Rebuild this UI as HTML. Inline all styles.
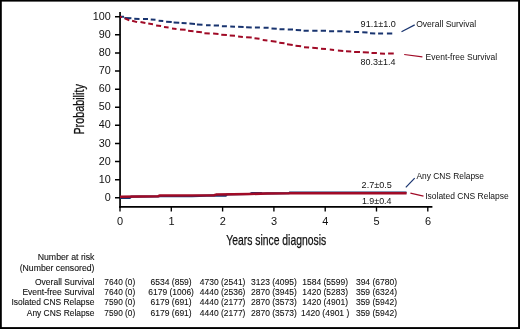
<!DOCTYPE html>
<html>
<head>
<meta charset="utf-8">
<title>Survival probability</title>
<style>
html,body{margin:0;padding:0;background:#fff;}
body{width:520px;height:329px;overflow:hidden;}
svg{display:block;will-change:transform;}
text{font-family:"Liberation Sans",sans-serif;fill:#111;}
.k{font-size:10px;}
.a{font-size:9px;}
.t{font-size:9.1px;stroke:#111;stroke-width:0.1px;}
.c{font-size:14.2px;stroke:#111;stroke-width:0.25px;}
</style>
</head>
<body>
<svg width="520" height="329" viewBox="0 0 520 329">
<rect x="0" y="0" width="520" height="329" fill="#fff"/>
<!-- frame -->
<rect x="0" y="0" width="520" height="1.6" fill="#000"/>
<rect x="0" y="327.1" width="520" height="1.9" fill="#000"/>
<rect x="0" y="0" width="1.8" height="329" fill="#000"/>
<rect x="518.1" y="0" width="1.9" height="329" fill="#000"/>

<!-- axes -->
<g stroke="#000" fill="none">
<path d="M120.05 11.9V207.7" stroke-width="1.7"/>
<path d="M119.2 206.9H432.4" stroke-width="1.7"/>
<path d="M115 16.75H120.05M115 34.85H120.05M115 52.95H120.05M115 71.05H120.05M115 89.15H120.05M115 107.25H120.05M115 125.35H120.05M115 143.45H120.05M115 161.55H120.05M115 179.65H120.05M115 197.75H120.05" stroke-width="1.5"/>
<path d="M120 206.9V211.5M171.3 206.9V211.5M222.6 206.9V211.5M273.9 206.9V211.5M325.2 206.9V211.5M376.5 206.9V211.5M427.8 206.9V211.5" stroke-width="1.35"/>
</g>
<!-- y tick labels -->
<g class="k" text-anchor="end">
<text x="110.7" y="19.85" textLength="18" lengthAdjust="spacingAndGlyphs">100</text>
<text x="110.7" y="37.95" textLength="12" lengthAdjust="spacingAndGlyphs">90</text>
<text x="110.7" y="56.05" textLength="12" lengthAdjust="spacingAndGlyphs">80</text>
<text x="110.7" y="74.15" textLength="12" lengthAdjust="spacingAndGlyphs">70</text>
<text x="110.7" y="92.25" textLength="12" lengthAdjust="spacingAndGlyphs">60</text>
<text x="110.7" y="110.35" textLength="12" lengthAdjust="spacingAndGlyphs">50</text>
<text x="110.7" y="128.45" textLength="12" lengthAdjust="spacingAndGlyphs">40</text>
<text x="110.7" y="146.55" textLength="12" lengthAdjust="spacingAndGlyphs">30</text>
<text x="110.7" y="164.65" textLength="12" lengthAdjust="spacingAndGlyphs">20</text>
<text x="110.7" y="182.75" textLength="12" lengthAdjust="spacingAndGlyphs">10</text>
<text x="110.7" y="200.85" textLength="6" lengthAdjust="spacingAndGlyphs">0</text>
</g>
<!-- x tick labels -->
<g class="k" text-anchor="middle">
<text x="120.15" y="225.4" textLength="6.1" lengthAdjust="spacingAndGlyphs">0</text>
<text x="171.45" y="225.4" textLength="6.1" lengthAdjust="spacingAndGlyphs">1</text>
<text x="222.75" y="225.4" textLength="6.1" lengthAdjust="spacingAndGlyphs">2</text>
<text x="274.05" y="225.4" textLength="6.1" lengthAdjust="spacingAndGlyphs">3</text>
<text x="325.35" y="225.4" textLength="6.1" lengthAdjust="spacingAndGlyphs">4</text>
<text x="376.65" y="225.4" textLength="6.1" lengthAdjust="spacingAndGlyphs">5</text>
<text x="427.95" y="225.4" textLength="6.1" lengthAdjust="spacingAndGlyphs">6</text>
</g>
<!-- axis titles -->
<text class="c" style="font-size:13.8px" text-anchor="middle" textLength="50.4" lengthAdjust="spacingAndGlyphs" transform="translate(83.9 109.4) rotate(-90)">Probability</text>
<text class="c" x="276.2" y="245" text-anchor="middle" textLength="100" lengthAdjust="spacingAndGlyphs">Years since diagnosis</text>

<!-- curves -->
<g fill="none" stroke-width="2.0" stroke-linejoin="round">
<path d="M120 16.80L124.1 16.80M124.4 17.9L131.4 18.35M134.25 18.87L139.5 19.03M143 18.99L148 19.11M150.75 19.43L155.5 19.77M158.6 20.70L163.25 21.10M166.1 21.71L171.75 22.09M173.6 22.45L179.25 22.75M181.6 23.09L186.6 23.31M189.4 23.60L195 23.90M196.9 24.45L202.5 24.75M206 25.13L210.6 25.27M213.75 25.40L219 25.60M221.9 26.15L226.9 26.35M230.25 26.54L235 26.66M238.1 26.82L243.6 26.98M246.1 27.34L251.75 27.46M254.9 27.47L259.9 27.53M263.6 27.65L268.6 27.85M271.5 28.45L276.75 28.75M279.5 29.17L284.5 29.33M287.75 29.42L293 29.58M295.75 29.97L301.1 30.23M303.6 30.69L308.75 30.81M312.25 30.75L317.5 30.75M320.75 30.75L326 30.85M329.1 31.20L334.1 31.30M337.25 31.27L342.5 31.33M345.75 31.54L350.4 31.66M354.1 31.94L359.1 32.06M362.25 32.16L367.5 32.44M370 33.28L375.25 33.52M378.1 33.49L383.1 33.51M386.9 33.50L392.25 33.50" stroke="#19346f"/>
<path d="M120 16.90L121.8 16.90M124.7 18.35L129.3 20.4M132.1 20.7L137.1 22.1M140.5 22.1L145.4 23M148.25 23.56L153 24.14M156.1 25.43L161.1 26.07M164 26.94L168.6 27.46M172 28.50L176.5 28.90M180 29.38L185.6 29.82M188.1 30.65L193.5 31.15M196.25 31.83L201.9 32.37M204.4 33.29L209.75 33.61M213.1 33.62L218.5 33.88M221.25 34.66L226.9 35.04M229.75 35.42L235 35.78M238.1 36.59L242.9 36.91M246.1 37.22L251.75 37.58M254.5 38.24L259.5 38.76M262.75 40.01L267.4 40.49M270.75 41.12L276.5 41.68M279.25 42.69L284.5 43.31M287 44.28L292.75 44.92M295.5 45.72L301.1 46.28M304 47.22L309.1 47.58M312.25 47.85L317.9 48.15M321 48.74L326 49.06M329.75 49.61L334.1 49.89M337.9 50.59L343.25 50.91M346 51.28L351.25 51.52M354.1 51.90L360 52.10M362.8 52.29L368.9 52.51M371.5 52.88L376.9 53.12M380 53.55L385 53.65M388.1 53.60L393.75 53.60" stroke="#a00a26"/>
<path d="M120 197.9L130 197.9L131 196.7L158 196.3L160 196.2L192 196.1L214 195.4L216 195.6L226 195.6L227 194.5L250 194L252 193L261 193L262 193.5L267 193.4L289 193.2L290 192.5L406.5 192.5" stroke="#19346f" stroke-width="2.2"/>
<path d="M120 196.7L158 196.2L160 195.5L214 195.3L216 194.6L250 194L267 193.5L289 193.3L291 193.15L406.6 193.15" stroke="#a00a26" stroke-width="2.55"/>
</g>
<!-- leader lines -->
<g fill="none" stroke-width="1.2">
<path d="M401.5 31.8L414.7 24.9" stroke="#19346f"/>
<path d="M404.2 54.5L422.4 56.9" stroke="#a00a26"/>
<path d="M405.8 187.3L414.7 178.1" stroke="#19346f"/>
<path d="M410.4 193.2L423.5 196.2" stroke="#a00a26"/>
</g>

<!-- annotations -->
<g class="a">
<text x="360.6" y="27.2" textLength="35.2" lengthAdjust="spacingAndGlyphs">91.1±1.0</text>
<text x="360.6" y="64.9" textLength="34.8" lengthAdjust="spacingAndGlyphs">80.3±1.4</text>
<text x="416.2" y="26.5" textLength="59.9" lengthAdjust="spacingAndGlyphs">Overall Survival</text>
<text x="425.6" y="59.7" textLength="71.5" lengthAdjust="spacingAndGlyphs">Event-free Survival</text>
<text x="361.6" y="188.1" textLength="30.2" lengthAdjust="spacingAndGlyphs">2.7±0.5</text>
<text x="361.9" y="204.3" textLength="29.6" lengthAdjust="spacingAndGlyphs">1.9±0.4</text>
<text x="416.4" y="179.3" textLength="67.6" lengthAdjust="spacingAndGlyphs">Any CNS Relapse</text>
<text x="425.2" y="198.5" textLength="83.5" lengthAdjust="spacingAndGlyphs">Isolated CNS Relapse</text>
</g>
<!-- risk table -->
<g class="t" text-anchor="end">
<text x="94.5" y="259.9" textLength="56.8" lengthAdjust="spacingAndGlyphs">Number at risk</text>
<text x="94.5" y="270.6" textLength="74.8" lengthAdjust="spacingAndGlyphs">(Number censored)</text>
<text x="94.5" y="284.6" textLength="59.5" lengthAdjust="spacingAndGlyphs">Overall Survival</text>
<text x="94.5" y="294.95" textLength="72.1" lengthAdjust="spacingAndGlyphs">Event-free Survival</text>
<text x="94.5" y="305.2" textLength="83.1" lengthAdjust="spacingAndGlyphs">Isolated CNS Relapse</text>
<text x="94.5" y="315.6" textLength="67.7" lengthAdjust="spacingAndGlyphs">Any CNS Relapse</text>
</g>
<g class="t" text-anchor="middle">
<text x="119.8" y="284.6" textLength="30.9" lengthAdjust="spacingAndGlyphs">7640 (0)</text>
<text x="171.1" y="284.6" textLength="41.2" lengthAdjust="spacingAndGlyphs">6534 (859)</text>
<text x="222.6" y="284.6" textLength="45.7" lengthAdjust="spacingAndGlyphs">4730 (2541)</text>
<text x="273.9" y="284.6" textLength="45.7" lengthAdjust="spacingAndGlyphs">3123 (4095)</text>
<text x="325.2" y="284.6" textLength="45.7" lengthAdjust="spacingAndGlyphs">1584 (5599)</text>
<text x="376.5" y="284.6" textLength="41.2" lengthAdjust="spacingAndGlyphs">394 (6780)</text>
<text x="119.8" y="294.95" textLength="30.9" lengthAdjust="spacingAndGlyphs">7640 (0)</text>
<text x="171.1" y="294.95" textLength="45.7" lengthAdjust="spacingAndGlyphs">6179 (1006)</text>
<text x="222.6" y="294.95" textLength="45.7" lengthAdjust="spacingAndGlyphs">4440 (2536)</text>
<text x="273.9" y="294.95" textLength="45.7" lengthAdjust="spacingAndGlyphs">2870 (3945)</text>
<text x="325.2" y="294.95" textLength="45.7" lengthAdjust="spacingAndGlyphs">1420 (5283)</text>
<text x="376.5" y="294.95" textLength="41.2" lengthAdjust="spacingAndGlyphs">359 (6324)</text>
<text x="119.8" y="305.2" textLength="30.9" lengthAdjust="spacingAndGlyphs">7590 (0)</text>
<text x="171.1" y="305.2" textLength="41.2" lengthAdjust="spacingAndGlyphs">6179 (691)</text>
<text x="222.6" y="305.2" textLength="45.7" lengthAdjust="spacingAndGlyphs">4440 (2177)</text>
<text x="273.9" y="305.2" textLength="45.7" lengthAdjust="spacingAndGlyphs">2870 (3573)</text>
<text x="325.2" y="305.2" textLength="45.7" lengthAdjust="spacingAndGlyphs">1420 (4901)</text>
<text x="376.5" y="305.2" textLength="41.2" lengthAdjust="spacingAndGlyphs">359 (5942)</text>
<text x="119.8" y="315.6" textLength="30.9" lengthAdjust="spacingAndGlyphs">7590 (0)</text>
<text x="171.1" y="315.6" textLength="41.2" lengthAdjust="spacingAndGlyphs">6179 (691)</text>
<text x="222.6" y="315.6" textLength="45.7" lengthAdjust="spacingAndGlyphs">4440 (2177)</text>
<text x="273.9" y="315.6" textLength="45.7" lengthAdjust="spacingAndGlyphs">2870 (3573)</text>
<text x="325.2" y="315.6" textLength="48.2" lengthAdjust="spacingAndGlyphs">1420 (4901 )</text>
<text x="376.5" y="315.6" textLength="41.2" lengthAdjust="spacingAndGlyphs">359 (5942)</text>
</g>
</svg>
</body>
</html>
